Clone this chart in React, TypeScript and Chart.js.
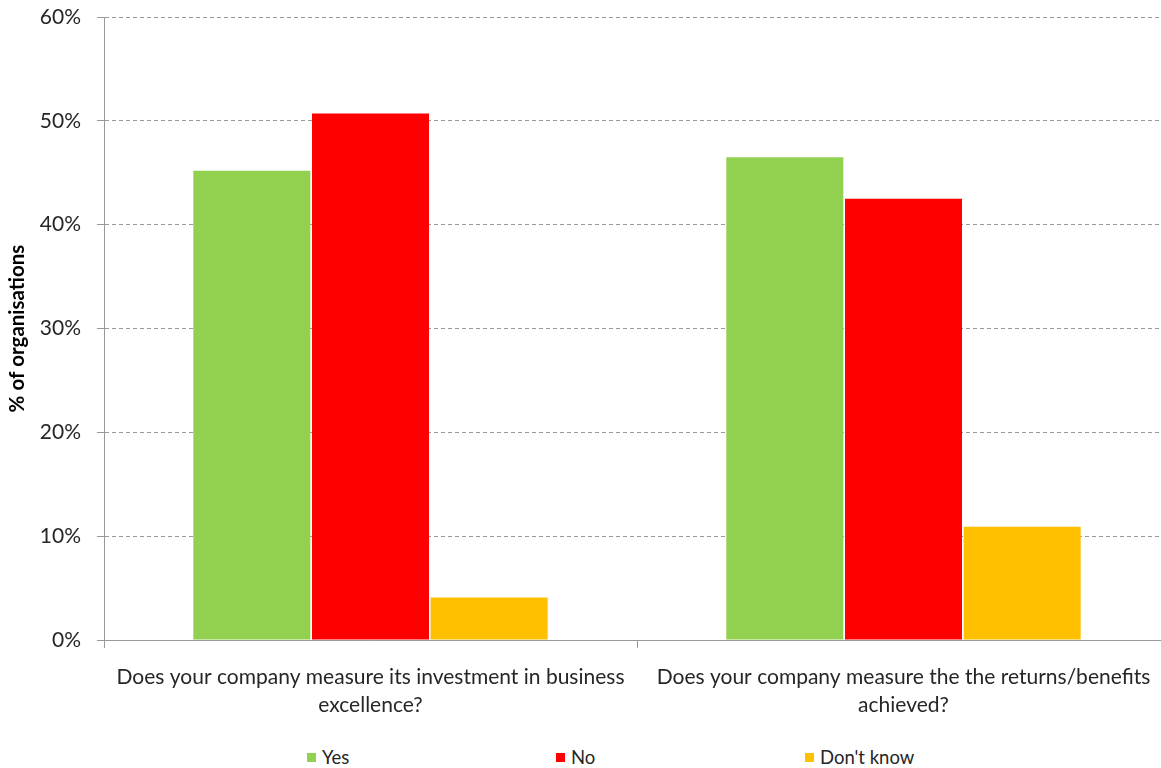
import React, { useEffect, useRef } from "react";
import { Chart, registerables } from "chart.js";

Chart.register(...registerables);

const categories: string[][] = [
  ["Does your company measure its investment in business", "excellence?"],
  ["Does your company measure the the returns/benefits", "achieved?"],
];
const seriesNames = ["Yes", "No", "Don't know"];
const yesValues = [45.2, 46.5];
const noValues = [50.7, 42.5];
const dontKnowValues = [4.1, 10.9];
const seriesColors = ["#92D050", "#FF0000", "#FFC000"];
const yMin = 0;
const yMax = 60;
const yStep = 10;
const yTitle = "% of organisations";

const FONT = "Lato, 'Open Sans', sans-serif";
const TEXT = "#262626";
const LINE = "#9a9a9a";

export default function App() {
  const ref = useRef<HTMLCanvasElement | null>(null);

  useEffect(() => {
    if (!ref.current) return;
    const values = [yesValues, noValues, dontKnowValues];
    const chart = new Chart(ref.current, {
      type: "bar",
      data: {
        labels: categories,
        datasets: seriesNames.map((name, i) => ({
          label: name,
          data: values[i],
          backgroundColor: seriesColors[i],
          borderWidth: 0,
          barPercentage: 0.986,
          categoryPercentage: 0.668,
        })),
      },
      options: {
        responsive: false,
        devicePixelRatio: 1,
        animation: false,
        layout: { padding: { left: 0, top: 17, right: 20, bottom: 0 } },
        plugins: {
          legend: { display: false },
          tooltip: { enabled: false },
        },
        scales: {
          x: {
            grid: {
              offset: true,
              drawOnChartArea: false,
              tickLength: 8,
              color: LINE,
            },
            border: { color: LINE, width: 1 },
            ticks: {
              font: { family: FONT, size: 21, lineHeight: 1.333 },
              color: TEXT,
              padding: 15,
              maxRotation: 0,
              autoSkip: false,
            },
          },
          y: {
            min: yMin,
            max: yMax,
            afterFit: (s: any) => {
              s.width = 104;
              s.paddingTop = 0;
              s.paddingBottom = 0;
            },
            ticks: {
              stepSize: yStep,
              callback: (v: any) => v + "%",
              font: { family: FONT, size: 21 },
              color: TEXT,
              padding: 16,
            },
            grid: {
              color: LINE,
              tickLength: 7,
              tickColor: LINE,
            },
            border: { color: LINE, width: 1, dash: [4, 3] },
            title: {
              display: true,
              text: yTitle,
              color: "#000",
              font: { family: FONT, size: 20.5, weight: "bold" },
              padding: { top: 5, bottom: 0 },
            },
          },
        },
      },
    });
    return () => chart.destroy();
  }, []);

  return (
    <div
      style={{
        position: "absolute",
        left: 0,
        top: 0,
        width: 1161,
        height: 768,
        overflow: "hidden",
        background: "#fff",
      }}
    >
      <canvas
        ref={ref}
        width={1190}
        height={734}
        style={{ position: "absolute", left: 0, top: 0, width: 1190, height: 734 }}
      />
      <div
        style={{
          position: "absolute",
          top: 746,
          left: 307,
          display: "flex",
          fontFamily: FONT,
          fontSize: 18.5,
          color: TEXT,
        }}
      >
        {seriesNames.map((n, i) => (
          <div
            key={n}
            style={{ width: 249, height: 22, display: "flex", alignItems: "center" }}
          >
            <span
              style={{
                display: "inline-block",
                width: 9,
                height: 9,
                background: seriesColors[i],
                marginRight: 6,
              }}
            />
            <span>{n}</span>
          </div>
        ))}
      </div>
    </div>
  );
}
